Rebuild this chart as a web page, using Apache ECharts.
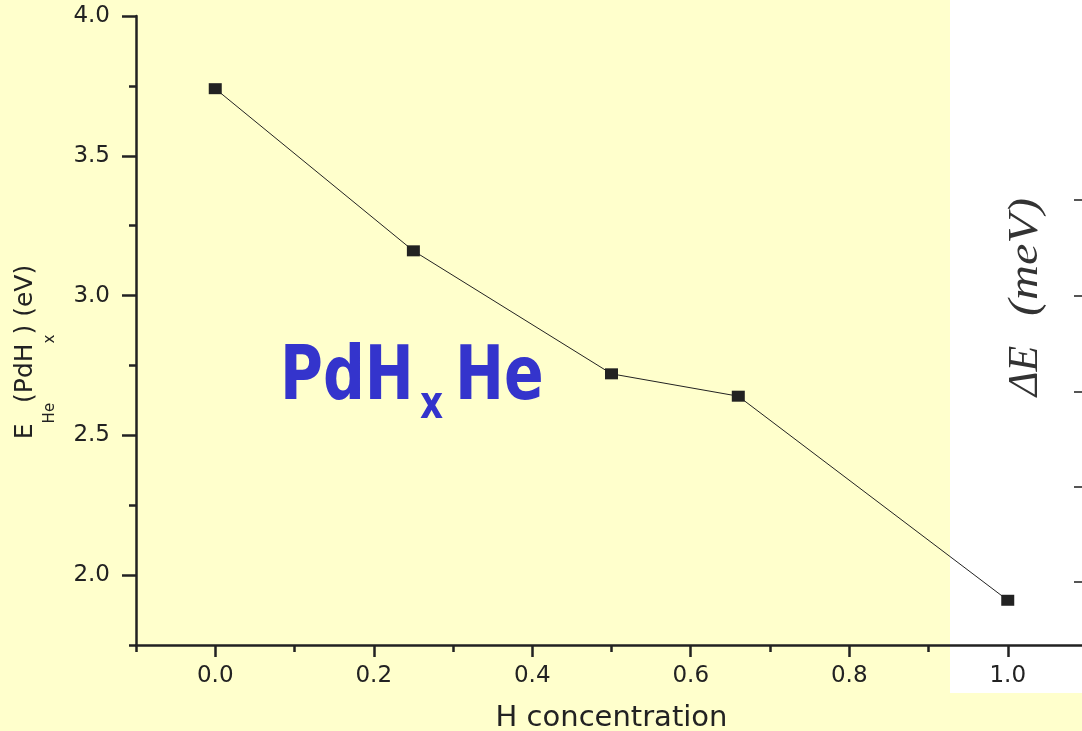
<!DOCTYPE html>
<html>
<head>
<meta charset="utf-8">
<script src="https://cdn.jsdelivr.net/npm/echarts@6/dist/echarts.min.js"></script>
<style>
  html, body { margin: 0; padding: 0; background: #FFFFCC; }
  #chart { width: 1082px; height: 731px; }
</style>
</head>
<body>
<div id="chart"></div>
<script>
// ---- data ----
const hConcentration = [0.0, 0.25, 0.5, 0.66, 1.0];
const energyHe = [3.74, 3.16, 2.72, 2.64, 1.91];
const xMajorTicks = [0.0, 0.2, 0.4, 0.6, 0.8, 1.0];
const xMinorTicks = [-0.1, 0.1, 0.3, 0.5, 0.7, 0.9];
const yMajorTicks = [2.0, 2.5, 3.0, 3.5, 4.0];
const yMinorTicks = [1.75, 2.25, 2.75, 3.25, 3.75];
const xAxisTitle = 'H concentration';
const rightTickLevels = [200, 296, 392, 487, 582];

const chart = echarts.init(document.getElementById('chart'), null, { renderer: 'canvas' });

const axisColor = '#222';
const labelFont = 'DejaVu Sans';

const points = hConcentration.map((x, i) => [x, energyHe[i]]);

const option = {
  backgroundColor: '#FFFFCC',
  animation: false,
  grid: {
    left: 136, right: -5, top: 16, bottom: 86,
    containLabel: false,
    outerBoundsMode: 'none'
  },
  xAxis: [
    {
      type: 'value', min: -0.1, max: 1.1, position: 'bottom',
      axisLine: { show: true, onZero: false, lineStyle: { color: axisColor, width: 2.5 } },
      axisTick: { show: true, inside: false, length: 12, customValues: xMajorTicks,
        lineStyle: { color: axisColor, width: 2.5 } },
      axisLabel: { show: true, customValues: xMajorTicks, margin: 20,
        formatter: v => v.toFixed(1),
        fontFamily: labelFont, fontSize: 23, color: '#222' },
      splitLine: { show: false },
      name: xAxisTitle, nameLocation: 'middle', nameGap: 59,
      nameTextStyle: { fontFamily: labelFont, fontSize: 29, color: '#222' }
    },
    {
      type: 'value', min: -0.1, max: 1.1, position: 'bottom',
      axisLine: { show: false, onZero: false },
      axisTick: { show: true, inside: false, length: 7, customValues: xMinorTicks,
        lineStyle: { color: axisColor, width: 2.5 } },
      axisLabel: { show: false },
      splitLine: { show: false }
    }
  ],
  yAxis: [
    {
      type: 'value', min: 1.75, max: 4.0, position: 'left',
      axisLine: { show: true, onZero: false, lineStyle: { color: axisColor, width: 2.5 } },
      axisTick: { show: true, inside: false, length: 14, customValues: yMajorTicks,
        lineStyle: { color: axisColor, width: 2.5 } },
      axisLabel: { show: true, customValues: yMajorTicks, margin: 26,
        formatter: v => v.toFixed(1),
        fontFamily: labelFont, fontSize: 23, color: '#222' },
      splitLine: { show: false },
      name: '{m|E}{s|He}{m|(PdH}{s|x}{m|) (eV)}',
      nameLocation: 'middle', nameGap: 98,
      nameTextStyle: {
        padding: [0, 43, 0, 0],
        rich: {
          m: { fontFamily: labelFont, fontSize: 25, lineHeight: 25, verticalAlign: 'top', color: '#222' },
          s: { fontFamily: labelFont, fontSize: 15, lineHeight: 15, verticalAlign: 'top', padding: [30, 0, 0, 0], color: '#222' }
        }
      }
    },
    {
      type: 'value', min: 1.75, max: 4.0, position: 'left',
      axisLine: { show: false, onZero: false },
      axisTick: { show: true, inside: false, length: 7, customValues: yMinorTicks,
        lineStyle: { color: axisColor, width: 2.5 } },
      axisLabel: { show: false },
      splitLine: { show: false }
    }
  ],
  graphic: [
    { type: 'rect', z: -10, shape: { x: 950, y: 0, width: 132, height: 693 },
      style: { fill: '#FFFFFF' } },
    { type: 'text', x: 1026, y: 371, rotation: Math.PI / 2,
      style: { text: 'ΔE', font: 'italic 42px "Liberation Serif"', fill: '#333',
        align: 'center', verticalAlign: 'middle' } },
    { type: 'text', x: 1026, y: 257, rotation: Math.PI / 2, scaleX: 1.15,
      style: { text: '(meV)', font: 'italic 42px "Liberation Serif"', fill: '#333',
        align: 'center', verticalAlign: 'middle' } },
    ...rightTickLevels.map(yy => ({
      type: 'line', shape: { x1: 1074, y1: yy, x2: 1082, y2: yy },
      style: { stroke: '#555', lineWidth: 2 }
    })),
    { type: 'text', x: 280, y: 379.5, scaleX: 0.78,
      style: { text: 'PdH', font: 'bold 75px "DejaVu Sans"', fill: '#3434CC',
        align: 'left', verticalAlign: 'middle' } },
    { type: 'text', x: 420, y: 406, scaleX: 0.78,
      style: { text: 'x', font: 'bold 46px "DejaVu Sans"', fill: '#3434CC',
        align: 'left', verticalAlign: 'middle' } },
    { type: 'text', x: 455, y: 379.5, scaleX: 0.78,
      style: { text: 'He', font: 'bold 75px "DejaVu Sans"', fill: '#3434CC',
        align: 'left', verticalAlign: 'middle' } }
  ],
  series: [
    {
      type: 'line', xAxisIndex: 0, yAxisIndex: 0,
      data: points,
      symbol: 'rect', symbolSize: [13, 11],
      itemStyle: { color: '#222' },
      lineStyle: { color: '#222', width: 1 },
      z: 5
    }
  ]
};

chart.setOption(option);
</script>
</body>
</html>
